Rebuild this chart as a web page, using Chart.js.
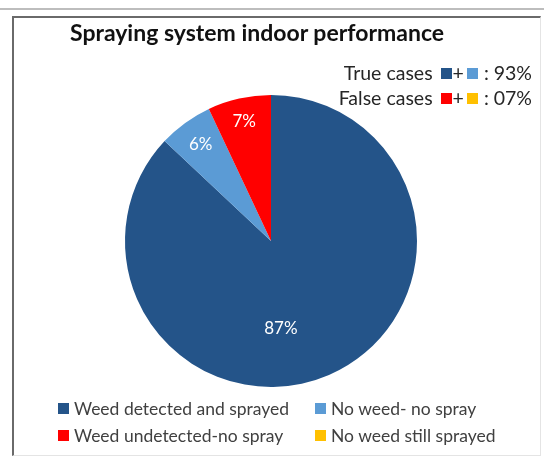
<!DOCTYPE html>
<html><head><meta charset="utf-8">
<script src="https://cdn.jsdelivr.net/npm/chart.js@4"></script>
<style>
html,body{margin:0;padding:0;background:#fff;}
#wrap{position:relative;width:544px;height:459px;overflow:hidden;font-family:Lato,"Open Sans",sans-serif;}
#topline{position:absolute;left:0;top:8px;width:544px;height:0;border-top:2px solid #bdbdbd;}
#box{position:absolute;left:12px;top:16px;width:526px;height:437px;border-left:2px solid #6a6a6a;border-top:2px solid #6a6a6a;border-right:1px solid #e4e4e4;border-bottom:1px solid #e4e4e4;}
canvas{position:absolute;left:0;top:0;}
#title{position:absolute;left:70px;top:18px;font-weight:bold;font-size:23px;color:#111;white-space:nowrap;}
.note{position:absolute;right:12px;font-size:19.5px;color:#262626;white-space:nowrap;}
.note .sq{width:11px;height:11px;margin:0 1px 0 3px;}
.sq{display:inline-block;width:11px;height:11px;vertical-align:1px;}
#legend{position:absolute;left:58px;top:398px;font-size:17.5px;color:#404040;}
.li{position:absolute;white-space:nowrap;}
.li .sq{margin-right:5px;}
</style></head>
<body><div id="wrap">
<div id="topline"></div><div id="box"></div>
<canvas id="c" width="544" height="459"></canvas>
<div id="title"></div>
<div id="n1" class="note" style="top:61px"></div>
<div id="n2" class="note" style="top:86px"></div>
<div id="legend"></div>
</div>
<script>
const chartTitle = "Spraying system indoor performance";
const categories = ["Weed detected and sprayed", "No weed- no spray", "Weed undetected-no spray", "No weed still sprayed"];
const values = [87, 6, 7, 0];
const valueLabels = ["87%", "6%", "7%", ""];
const summaryLabels = ["True cases", "False cases"];
const summaryValues = ["93%", "07%"];
const colors = ["#245489", "#5b9bd5", "#ff0000", "#ffc000"];

document.getElementById('title').textContent = chartTitle;
function sq(c){return '<span class="sq" style="background:'+c+'"></span>';}
document.getElementById('n1').innerHTML = summaryLabels[0]+' '+sq(colors[0])+'+'+sq(colors[1])+' : '+summaryValues[0];
document.getElementById('n2').innerHTML = summaryLabels[1]+' '+sq(colors[2])+'+'+sq(colors[3])+' : '+summaryValues[1];
const leg = document.getElementById('legend');
const order = [0,1,2,3];
const lpos = [[0,0],[257,0],[0,27],[257,27]];
order.forEach((i,k)=>{
  const d=document.createElement('div');d.className='li';
  d.style.left=lpos[k][0]+'px';d.style.top=lpos[k][1]+'px';
  d.innerHTML=sq(colors[i])+categories[i];leg.appendChild(d);
});

const labelPlace = [{frac:0.6, angle:83.5},{frac:0.82},{frac:0.84},{frac:0.8}];
const labelPlugin = {
  id:'sliceLabels',
  afterDatasetsDraw(chart){
    const ctx=chart.ctx;const meta=chart.getDatasetMeta(0);
    ctx.save();ctx.font='17px Lato, "Open Sans", sans-serif';ctx.fillStyle='#fff';
    ctx.textAlign='center';ctx.textBaseline='middle';
    meta.data.forEach((arc,i)=>{
      if(!valueLabels[i])return;
      const p=arc.getProps(['x','y','startAngle','endAngle','outerRadius'],true);
      const pl=labelPlace[i];
      const a = pl.angle!==undefined ? pl.angle*Math.PI/180 : (p.startAngle+p.endAngle)/2;
      const r=p.outerRadius*pl.frac;
      ctx.fillText(valueLabels[i], p.x+Math.cos(a)*r, p.y+Math.sin(a)*r);
    });
    ctx.restore();
  }
};
new Chart(document.getElementById('c'),{
  type:'pie',
  data:{labels:categories,datasets:[{data:values,backgroundColor:colors,borderWidth:0}]},
  options:{responsive:false,animation:false,
    layout:{padding:{left:122,right:124,top:95,bottom:72}},
    plugins:{legend:{display:false},tooltip:{enabled:false},title:{display:false}}},
  plugins:[labelPlugin]
});
</script>
</body></html>
